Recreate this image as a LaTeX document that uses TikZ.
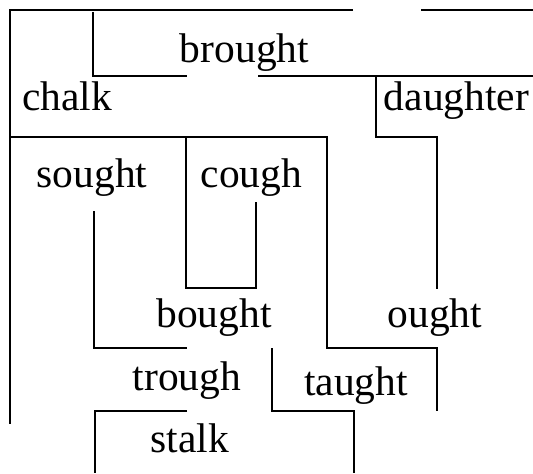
\documentclass[tikz,border=0pt]{standalone}
\usepackage{fontspec}
\setmainfont{Liberation Serif}
\usepackage{tikz}
\tikzset{word/.style={anchor=base, inner sep=0pt, font=\fontsize{23.6}{28}\selectfont}}

\begin{document}
\begin{tikzpicture}[line width=0.8pt]
\useasboundingbox (0,0) rectangle (10.66,9.46);
\draw (7.06,9.26)--(0.2,9.26)--(0.2,0.98);
\draw (8.42,9.26)--(10.66,9.26);
\draw (1.86,9.22)--(1.86,7.94)--(3.74,7.94);
\draw (5.16,7.94)--(10.66,7.94);
\draw (7.52,7.94)--(7.52,6.72)--(8.74,6.72)--(8.74,3.68);
\draw (0.2,6.72)--(6.54,6.72)--(6.54,2.50)--(8.74,2.50)--(8.74,1.24);
\draw (3.72,6.72)--(3.72,3.70)--(5.12,3.70)--(5.12,5.42);
\draw (1.88,5.24)--(1.88,2.50)--(3.74,2.50);
\draw (5.44,2.50)--(5.44,1.24)--(7.08,1.24)--(7.08,0);
\draw (3.74,1.24)--(1.9,1.24)--(1.9,0);
\node[word] (brought) at (4.89, 8.2) {brought};
\node[word] (chalk) at (1.34, 7.26) {chalk};
\node[word] (daughter) at (9.13, 7.26) {daughter};
\node[word] (sought) at (1.84, 5.72) {sought};
\node[word] (cough) at (5.03, 5.72) {cough};
\node[word] (bought) at (4.28, 2.92) {bought};
\node[word] (ought) at (8.70, 2.92) {ought};
\node[word] (trough) at (3.74, 1.66) {trough};
\node[word] (taught) at (7.12, 1.56) {taught};
\node[word] (stalk) at (3.80, 0.42) {stalk};
\end{tikzpicture}
\end{document}
